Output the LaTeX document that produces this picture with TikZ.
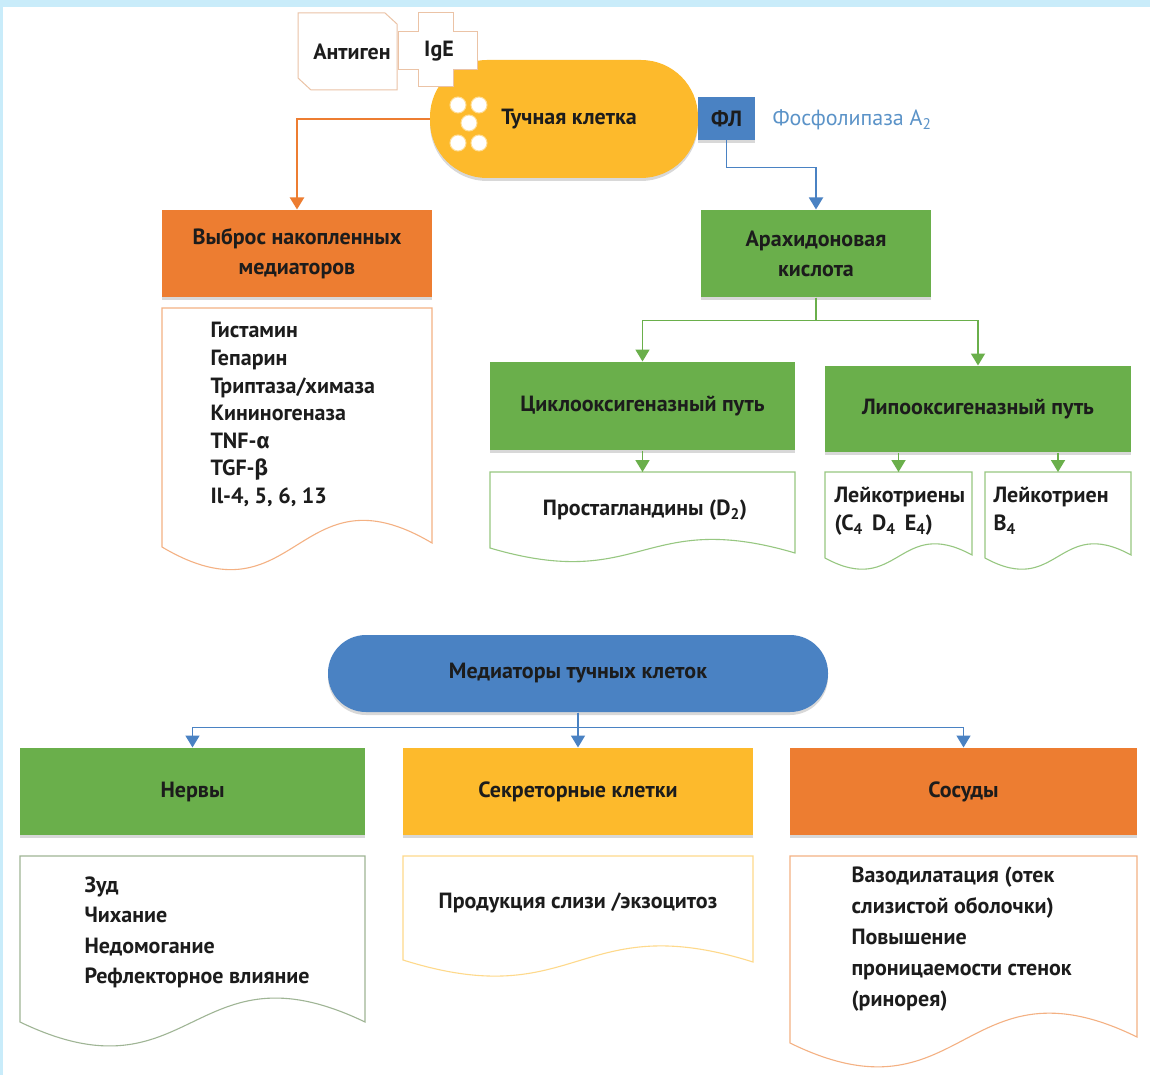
\documentclass[tikz,border=0pt]{standalone}
\usepackage{fontspec}
\setmainfont{PT Sans}
\newfontfamily\grk{Fira Sans}
\usetikzlibrary{arrows.meta,shadows}
\definecolor{cOrange}{HTML}{ED7D31}
\definecolor{cGreen}{HTML}{6AAF4B}
\definecolor{cYellow}{HTML}{FDBA2C}
\definecolor{cBlue}{HTML}{4A82C3}
\definecolor{cSky}{HTML}{C9ECFA}
\definecolor{cPeach}{HTML}{EBC3A6}
\definecolor{cText}{HTML}{1C1C1C}
\definecolor{cBlueTxt}{HTML}{5B93C8}
\tikzset{
every picture/.style={
line width=1pt
}}
\tikzset{
box/.style={rectangle, inner sep=0pt, align=center, text=cText,
  font=\bfseries\fontsize{22}{30}\selectfont,
  drop shadow={shadow xshift=0pt, shadow yshift=-3pt, opacity=.3}},
flow/.style={line width=1.8pt, -{Triangle[width=14pt,length=12pt]}},
txt/.style={inner sep=0pt, align=left, text=cText, font=\bfseries\fontsize{22}{27.6}\selectfont}
}
% document shape: name, x1, top, x2, right end, left end, wave depth, colour
\newcommand\docpath[8]{%
  \draw[line width=1.1pt, draw=#8, fill=white] (#2,#3) -- (#4,#3) -- (#4,#5)
    .. controls ({(#2+#4)/2},#5-#7) and ({(#2+#4)/2},#6+#7) .. (#2,#6) -- cycle;
  \coordinate (#1) at ({(#2+#4)/2},#3);
}

\begin{document}
\begin{tikzpicture}[x=1pt, y=-1pt]
\useasboundingbox (0,0) rectangle (1150,1075);
\fill[white] (0,0) rectangle (1150,1075);
\fill[cSky] (0,0) rectangle (1150,7);
\fill[cSky] (0,0) rectangle (2.5,1075);

\node[box, fill=cYellow, rounded corners=57pt, minimum width=268pt, minimum height=118pt] (cell) at (564,119) {};
\foreach \gx/\gy in {458/105, 479/105, 469/123, 458/143, 479/143}{
  \filldraw[fill=white, draw=cYellow!50!white] (\gx,\gy) circle (8pt);
}
\node[txt] (celltxt) at (569,119) {Тучная клетка};

\draw[draw=cPeach, fill=white] (298,13) -- (385,13) -- (397,24) -- (397,90) -- (311,90) -- (298,78) -- cycle;
\node[txt] (antigen) at (352,52) {Антиген};
\draw[draw=cPeach, fill=white] (418,13) -- (453,13) -- (453,32) -- (477,32) -- (477,70) -- (453,70)
  -- (453,87) -- (418,87) -- (418,70) -- (398,70) -- (398,32) -- (418,32) -- cycle;
\node[txt] (ige) at (439,51) {IgE};

\node[box, fill=cBlue, minimum width=57pt, minimum height=43pt, drop shadow={opacity=0}] (fl) at (726.5,118.5) {ФЛ};
\node[anchor=west, inner sep=0pt, text=cBlueTxt, font=\fontsize{22}{24}\selectfont] (phos) at (772,120) {Фосфолипаза A\textsubscript{2}};

\node[box, fill=cOrange, minimum width=270pt, minimum height=87pt] (release) at (297,253.5) {Выброс накопленных\\медиаторов};
\node[box, fill=cGreen, minimum width=230pt, minimum height=87pt] (acid) at (816,253.5) {Арахидоновая\\кислота};

\draw[flow, cOrange, line width=2.2pt] (cell.west) -| (release.north);
\draw[flow, cBlue] (fl.south) -- ++(0,27) -| (acid.north);

\docpath{mdoc}{162}{308}{432}{543}{547}{80}{cOrange!60}
\node[txt, anchor=north west] (mlist) at (210,322) {Гистамин\\Гепарин\\Триптаза/химаза\\Кининогеназа\\TNF-{\grk α}\\TGF-{\grk β}\\Il-4, 5, 6, 13};

\node[box, fill=cGreen, minimum width=305pt, minimum height=88pt] (cyc) at (642.5,406) {Циклооксигеназный путь};
\node[box, fill=cGreen, minimum width=306pt, minimum height=86pt] (lip) at (978,409) {Липооксигеназный путь};
\draw[flow, cGreen] (acid.south) -- ++(0,23) -| (cyc.north);
\draw[flow, cGreen] (acid.south) -- ++(0,23) -| (lip.north);

\docpath{pdoc}{490}{472}{795}{553}{548}{45}{cGreen!70}
\docpath{l1doc}{825}{472}{972}{555}{558}{40}{cGreen!70}
\docpath{l2doc}{985}{472}{1131}{555}{558}{40}{cGreen!70}
\draw[flow, cGreen] (cyc.south) -- (pdoc);
\draw[flow, cGreen] (lip.south -| l1doc) -- (l1doc);
\draw[flow, cGreen] (lip.south -| l2doc) -- (l2doc);
\node[txt] (pros) at (645,510) {Простагландины (D\textsubscript{2})};
\node[txt, anchor=north west, font=\bfseries\fontsize{22}{28}\selectfont] (lt1) at (834,487) {Лейкотриены\\(C\textsubscript{4}\, D\textsubscript{4}\, E\textsubscript{4})};
\node[txt, anchor=north west, font=\bfseries\fontsize{22}{28}\selectfont] (lt2) at (993,487) {Лейкотриен\\B\textsubscript{4}};

\node[box, fill=cBlue, rounded corners=38pt, minimum width=500pt, minimum height=77pt] (med) at (578,673.5) {Медиаторы тучных клеток};
\node[box, fill=cGreen, minimum width=345pt, minimum height=87pt] (nerv) at (192.5,791.5) {Нервы};
\node[box, fill=cYellow, minimum width=350pt, minimum height=87pt] (sec) at (578,791.5) {Секреторные клетки};
\node[box, fill=cOrange, minimum width=347pt, minimum height=87pt] (ves) at (963.5,791.5) {Сосуды};
\foreach \b in {nerv, sec, ves}{
  \draw[flow, cBlue, line width=1.6pt] (med.south) -- ++(0,15) -| (\b.north);
}

\docpath{ndoc}{20}{856}{365}{1022}{1022}{83}{cGreen!45!gray!70}
\docpath{sdoc}{403}{856}{753}{962}{960}{55}{cYellow!55}
\docpath{vdoc}{790}{856}{1137}{1037}{1043}{85}{cOrange!60}
\node[txt, anchor=north west, font=\bfseries\fontsize{22}{30.5}\selectfont] (nlist) at (84,876) {Зуд\\Чихание\\Недомогание\\Рефлекторное влияние};
\node[txt] (slist) at (578,903) {Продукция слизи /экзоцитоз};
\node[txt, anchor=north west, font=\bfseries\fontsize{22}{31}\selectfont] (vlist) at (851,866) {Вазодилатация (отек\\слизистой оболочки)\\Повышение\\проницаемости стенок\\(ринорея)};
\end{tikzpicture}
\end{document}
